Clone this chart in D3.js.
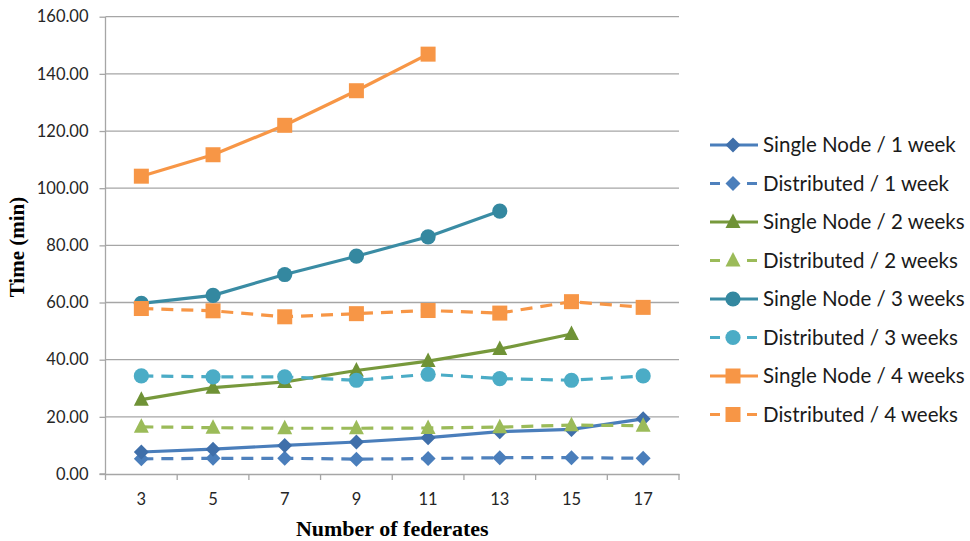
<!DOCTYPE html>
<html><head><meta charset="utf-8">
<script src="https://cdn.jsdelivr.net/npm/d3@7"></script>
<style>
html,body{margin:0;padding:0;background:#fff;}
svg{display:block;}
</style></head>
<body>
<svg id="c" width="970" height="541"></svg>
<script>
const categories = [3,5,7,9,11,13,15,17];
const yTicks = [0,20,40,60,80,100,120,140,160];
const singleNode1 = [7.7,8.7,10.0,11.2,12.7,14.8,15.6,19.3];
const distributed1 = [5.3,5.5,5.5,5.2,5.4,5.7,5.7,5.5];
const singleNode2 = [26.0,30.2,32.2,36.2,39.5,43.7,49.0,null];
const distributed2 = [16.5,16.2,16.0,16.0,16.1,16.4,17.1,16.9];
const singleNode3 = [59.7,62.5,69.8,76.2,83.0,92.0,null,null];
const distributed3 = [34.3,34.0,34.0,32.8,34.9,33.4,32.8,34.3];
const singleNode4 = [104.2,111.7,122.0,134.1,146.9,null,null,null];
const distributed4 = [57.9,57.1,55.0,56.1,57.2,56.3,60.3,58.3];

const seriesNames = ["Single Node / 1 week","Distributed / 1 week","Single Node / 2 weeks","Distributed / 2 weeks",
  "Single Node / 3 weeks","Distributed / 3 weeks","Single Node / 4 weeks","Distributed / 4 weeks"];
const seriesValues = [singleNode1,distributed1,singleNode2,distributed2,singleNode3,distributed3,singleNode4,distributed4];
const seriesColors = ["#4a7ebb","#4f81bd","#77993c","#9bbb59","#3a8ca4","#4bacc6","#f79646","#f79646"];
const markerColors = ["#3f6faa","#4a7ebb","#6f9236","#9bbb59","#3488a0","#4bacc6","#f79646","#f79646"];
const seriesDashed = [false,true,false,true,false,true,false,true];
const seriesShapes = ["diamond","diamond","triangle","triangle","circle","circle","square","square"];

const svg = d3.select("#c");
const L=105.5, R=679, T=16.7, B=474;
const x = d3.scaleBand().domain(categories).range([L,R]);
const y = d3.scaleLinear().domain([0,160]).range([B,T]);
const tickFont = "Lato, 'Open Sans', sans-serif";

// gridlines
svg.append("g").selectAll("line").data(yTicks.filter(d=>d>0)).join("line")
  .attr("x1",L).attr("x2",R).attr("y1",d=>y(d)).attr("y2",d=>y(d))
  .attr("stroke","#a6a6a6").attr("stroke-width",1.3);

// y axis
const ya = svg.append("g").attr("transform",`translate(${L},0)`)
  .call(d3.axisLeft(y).tickValues(yTicks).tickFormat(d3.format(".2f")).tickSize(6).tickPadding(11));
ya.select(".domain").attr("stroke","#a6a6a6").attr("stroke-width",1.3).attr("d",`M-6,${B}H0V${T}`);
ya.selectAll(".tick line").attr("stroke","#a6a6a6").attr("stroke-width",1.3);
ya.selectAll(".tick text").attr("font-family",tickFont).attr("font-size",16.5).attr("fill","#262626");

// x axis
const xa = svg.append("g").attr("transform",`translate(0,${B})`)
  .call(d3.axisBottom(x).tickSize(0).tickPadding(19));
xa.select(".domain").attr("stroke","#a6a6a6").attr("stroke-width",1.3);
xa.selectAll(".tick text").attr("font-family",tickFont).attr("font-size",16.5).attr("fill","#262626");
const edges = categories.map(c=>x(c)).concat([R]);
xa.append("g").selectAll("line").data(edges).join("line")
  .attr("x1",d=>d).attr("x2",d=>d).attr("y1",0).attr("y2",6)
  .attr("stroke","#a6a6a6").attr("stroke-width",1.3);

// axis titles
svg.append("text").attr("x",(L+R)/2).attr("y",536).attr("text-anchor","middle")
  .attr("font-family","'Liberation Serif', 'Times New Roman', serif").attr("font-weight","bold").attr("font-size",22)
  .attr("fill","#000").text("Number of federates");
svg.append("text").attr("transform","translate(24,247) rotate(-90)").attr("text-anchor","middle")
  .attr("font-family","'Liberation Serif', 'Times New Roman', serif").attr("font-weight","bold").attr("font-size",21)
  .attr("fill","#000").text("Time (min)");

const cx = d=>x(d)+x.bandwidth()/2;
function drawMarker(g, shape, color, px, py){
  if(shape==="diamond"){
    const s = 7.5;
    g.append("path").attr("d",`M${px},${py-s}L${px+s},${py}L${px},${py+s}L${px-s},${py}Z`).attr("fill",color);
  } else if(shape==="triangle"){
    g.append("path").attr("d",`M${px},${py-8.5}L${px+7.5},${py+6}L${px-7.5},${py+6}Z`).attr("fill",color);
  } else if(shape==="circle"){
    g.append("circle").attr("cx",px).attr("cy",py).attr("r",7.6).attr("fill",color);
  } else {
    g.append("rect").attr("x",px-7.5).attr("y",py-7.5).attr("width",15).attr("height",15).attr("fill",color);
  }
}

// series
const order = [1,0,3,2,5,4,7,6];
order.forEach(i=>{
  const vals = seriesValues[i];
  const pts = categories.map((c,j)=>({c, v: vals[j]})).filter(p=>p.v!==null);
  const g = svg.append("g");
  g.append("path").datum(pts)
    .attr("d", d3.line().x(p=>cx(p.c)).y(p=>y(p.v)))
    .attr("fill","none").attr("stroke",seriesColors[i]).attr("stroke-width",3.2)
    .attr("stroke-dasharray", seriesDashed[i] ? "12,8" : null)
    .attr("stroke-linejoin","round");
  pts.forEach(p=>drawMarker(g, seriesShapes[i], markerColors[i], cx(p.c), y(p.v)));
});

// legend
const lg = svg.append("g");
seriesNames.forEach((name,i)=>{
  const ly = 145 + i*38.5;
  const g = lg.append("g");
  if(seriesDashed[i]){
    g.append("line").attr("x1",710).attr("x2",720).attr("y1",ly).attr("y2",ly).attr("stroke",seriesColors[i]).attr("stroke-width",3);
    g.append("line").attr("x1",747).attr("x2",757).attr("y1",ly).attr("y2",ly).attr("stroke",seriesColors[i]).attr("stroke-width",3);
  } else {
    g.append("line").attr("x1",710).attr("x2",758).attr("y1",ly).attr("y2",ly).attr("stroke",seriesColors[i]).attr("stroke-width",3);
  }
  drawMarker(g, seriesShapes[i], markerColors[i], 733, ly);
  g.append("text").attr("x",763).attr("y",ly).attr("dy","0.35em")
    .attr("font-family",tickFont).attr("font-size",20.5).attr("fill","#1a1a1a").text(name);
});
</script>
</body></html>
